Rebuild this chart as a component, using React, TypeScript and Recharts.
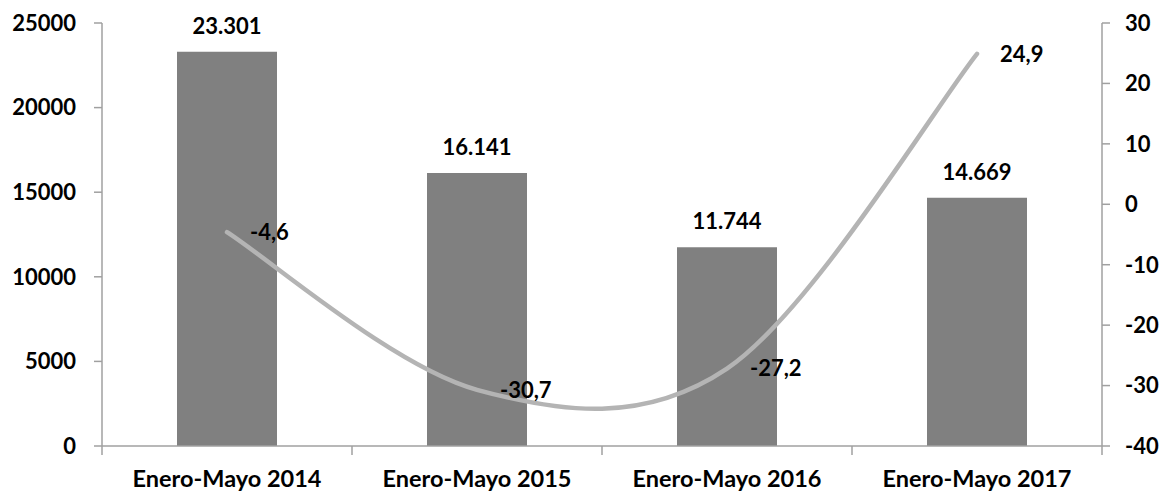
import React from 'react';
import { ComposedChart, Bar, Line, XAxis, YAxis, LabelList } from 'recharts';

const categories = ['Enero-Mayo 2014', 'Enero-Mayo 2015', 'Enero-Mayo 2016', 'Enero-Mayo 2017'];
const totals = [23301, 16141, 11744, 14669];
const variation = [-4.6, -30.7, -27.2, 24.9];
const leftTicks = [0, 5000, 10000, 15000, 20000, 25000];
const rightTicks = [-40, -30, -20, -10, 0, 10, 20, 30];

const data = categories.map((c, i) => ({ name: c, total: totals[i], variation: variation[i] }));

const FONT = 'Lato, "Open Sans", sans-serif';
const AXIS_COLOR = '#A0A0A0';
const textStyle = { fill: '#000', fontSize: 22, fontWeight: 700, fontFamily: FONT };
const catStyle = { ...textStyle, fontSize: 23.5 };

// Excel-like smoothed line (Catmull-Rom to Bezier)
const excelCurve = (context: any) => {
  let pts: number[][] = [];
  return {
    areaStart() {},
    areaEnd() {},
    lineStart() {
      pts = [];
    },
    lineEnd() {
      const n = pts.length;
      if (!n) return;
      context.moveTo(pts[0][0], pts[0][1]);
      for (let i = 0; i < n - 1; i++) {
        const p0 = pts[Math.max(i - 1, 0)];
        const p1 = pts[i];
        const p2 = pts[i + 1];
        const p3 = pts[Math.min(i + 2, n - 1)];
        context.bezierCurveTo(
          p1[0] + (p2[0] - p0[0]) / 6,
          p1[1] + (p2[1] - p0[1]) / 6,
          p2[0] - (p3[0] - p1[0]) / 6,
          p2[1] - (p3[1] - p1[1]) / 6,
          p2[0],
          p2[1]
        );
      }
    },
    point(x: number, y: number) {
      pts.push([+x, +y]);
    },
  };
};

const XTick = (props: any) => {
  const { x, y, payload, index } = props;
  const half = payload && payload.offset ? payload.offset : 125;
  const last = index === categories.length - 1;
  return (
    <g>
      <line x1={x - half} x2={x - half} y1={y} y2={y + 9} stroke={AXIS_COLOR} strokeWidth={1.5} />
      {last && <line x1={x + half} x2={x + half} y1={y} y2={y + 9} stroke={AXIS_COLOR} strokeWidth={1.5} />}
      <text x={x} y={y + 41} textAnchor="middle" {...catStyle}>
        {payload.value}
      </text>
    </g>
  );
};

const fmtThousands = (v: any) => Number(v).toLocaleString('de-DE');
const fmtDecimal = (v: any) => String(v).replace('.', ',');

export default function App() {
  return (
    <div style={{ position: 'absolute', left: 0, top: 0, background: '#fff' }}>
      <ComposedChart
        width={1164}
        height={492}
        data={data}
        margin={{ top: 23, right: 0, bottom: 0, left: 0 }}
        barCategoryGap="30%"
      >
        <XAxis
          dataKey="name"
          height={46}
          axisLine={{ stroke: AXIS_COLOR, strokeWidth: 1.5 }}
          tickLine={false}
          tickSize={0}
          tickMargin={0}
          tick={<XTick />}
          interval={0}
        />
        <YAxis
          yAxisId="left"
          orientation="left"
          width={102}
          domain={[0, 25000]}
          ticks={leftTicks}
          axisLine={{ stroke: AXIS_COLOR, strokeWidth: 1.5 }}
          tickLine={{ stroke: AXIS_COLOR, strokeWidth: 1.5 }}
          tickSize={8}
          tickMargin={18}
          tick={textStyle}
          interval={0}
        />
        <YAxis
          yAxisId="right"
          orientation="right"
          width={62}
          domain={[-40, 30]}
          ticks={rightTicks}
          axisLine={{ stroke: AXIS_COLOR, strokeWidth: 1.5 }}
          tickLine={{ stroke: AXIS_COLOR, strokeWidth: 1.5 }}
          tickSize={8}
          tickMargin={15}
          tick={textStyle}
          interval={0}
        />
        <Bar yAxisId="left" dataKey="total" fill="#808080" isAnimationActive={false}>
          <LabelList dataKey="total" position="top" offset={18} formatter={fmtThousands} style={textStyle} />
        </Bar>
        <Line
          yAxisId="right"
          dataKey="variation"
          type={excelCurve as any}
          stroke="#B4B4B4"
          strokeWidth={4.5}
          strokeLinecap="round"
          dot={false}
          activeDot={false}
          isAnimationActive={false}
        >
          <LabelList dataKey="variation" position="right" offset={23} formatter={fmtDecimal} style={textStyle} />
        </Line>
      </ComposedChart>
    </div>
  );
}
